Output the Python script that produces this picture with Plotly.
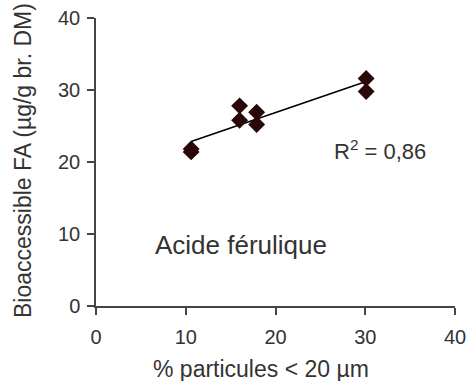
import numpy as np
import plotly.graph_objects as go

# Data
particules = [10.6, 10.6, 16.0, 16.0, 17.9, 17.9, 30.1, 30.1]
fa = [21.4, 21.8, 27.8, 25.8, 26.9, 25.2, 31.6, 29.8]
x_ticks = [0, 10, 20, 30, 40]
y_ticks = [0, 10, 20, 30, 40]
r2_label = "R<sup>2</sup> = 0,86"
compound = "Acide férulique"

slope, intercept = np.polyfit(particules, fa, 1)
x_line = [min(particules), max(particules)]
y_line = [slope * v + intercept for v in x_line]

font = "Liberation Sans, Arial, sans-serif"
txt = "#333333"

fig = go.Figure()
fig.add_trace(go.Scatter(x=x_line, y=y_line, mode="lines",
                         line=dict(color="black", width=1.6), showlegend=False))
fig.add_trace(go.Scatter(x=particules, y=fa, mode="markers",
                         marker=dict(symbol="diamond", size=13, color="#2a0808",
                                     line=dict(width=0)), showlegend=False))

fig.update_layout(
    width=466, height=381,
    margin=dict(l=96, r=11, t=18, b=75),
    plot_bgcolor="white", paper_bgcolor="white",
    font=dict(family=font, color=txt),
    xaxis=dict(range=[0, 40], tickvals=x_ticks, showgrid=False, zeroline=False,
               automargin=False, ticklabelstandoff=5, ticklabeloverflow="allow",
               showline=True, linecolor="#444444", linewidth=1.5,
               ticks="outside", ticklen=7, tickcolor="#444444", tickwidth=1.5,
               tickfont=dict(size=20, color=txt, family=font)),
    yaxis=dict(range=[0, 40], tickvals=y_ticks, showgrid=False, zeroline=False,
               automargin=False, ticklabelstandoff=3, ticklabeloverflow="allow",
               showline=True, linecolor="#444444", linewidth=1.5,
               ticks="outside", ticklen=7, tickcolor="#444444", tickwidth=1.5,
               tickfont=dict(size=20, color=txt, family=font)),
    annotations=[
        dict(text="% particules < 20 µm", xref="paper", yref="paper",
             x=(261 - 96) / 359, y=-(369 - 306) / 288, showarrow=False,
             xanchor="center", yanchor="middle", font=dict(size=23, color=txt)),
        dict(text="Bioaccessible FA (µg/g br. DM)", xref="paper", yref="paper",
             x=-(96 - 23) / 359, y=(306 - 161) / 288, showarrow=False, textangle=-90,
             xanchor="center", yanchor="middle", font=dict(size=23, color=txt)),
        dict(text=r2_label, xref="paper", yref="paper",
             x=(332 - 96) / 359, y=(306 - 150) / 288, showarrow=False,
             xanchor="left", yanchor="middle", font=dict(size=22, color=txt)),
        dict(text=compound, xref="paper", yref="paper",
             x=(153 - 96) / 359, y=(306 - 245) / 288, showarrow=False,
             xanchor="left", yanchor="middle", font=dict(size=26, color=txt)),
    ],
)

fig.write_html("out.html")
